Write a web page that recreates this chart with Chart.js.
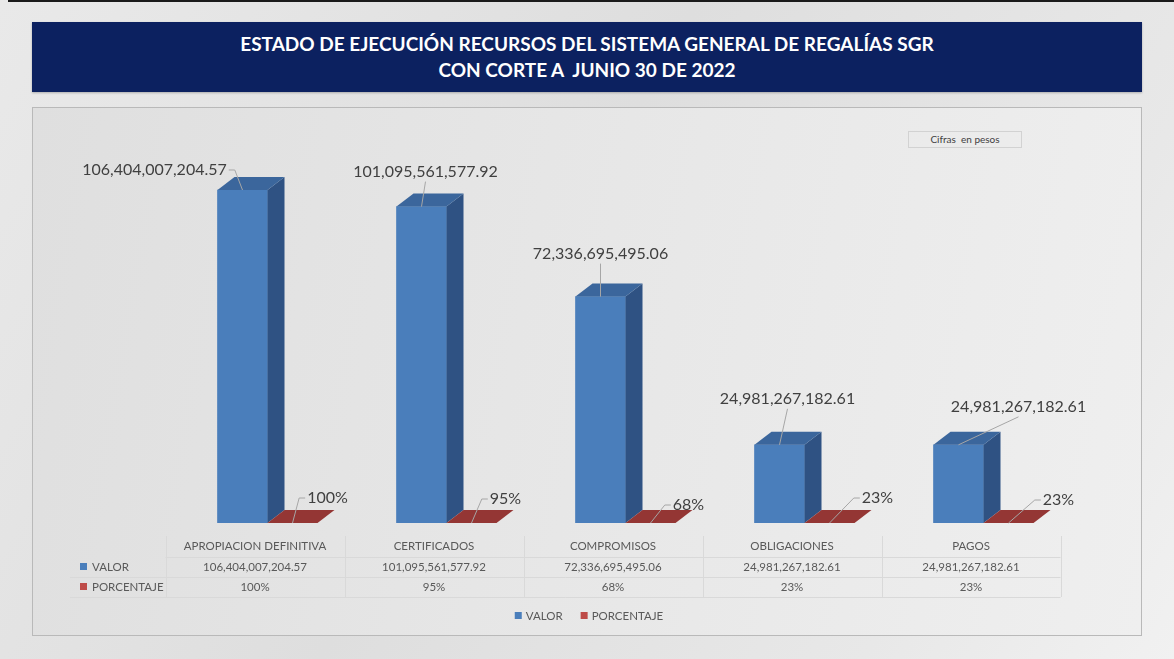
<!DOCTYPE html>
<html>
<head>
<meta charset="utf-8">
<script src="https://cdn.jsdelivr.net/npm/chart.js@4.4.0/dist/chart.umd.min.js"></script>
<style>
  html, body { margin: 0; padding: 0; }
  body {
    width: 1174px; height: 659px; position: relative; overflow: hidden;
    background: linear-gradient(120deg, #e9e9e9 0%, #dedede 45%, #e8e8e8 80%, #f1f1f1 100%);
    font-family: Lato, "Open Sans", sans-serif;
  }
  #topline { position: absolute; left: 8px; top: 0; width: 1166px; height: 2px; background: #1a1a1a; }
  #title {
    position: absolute; left: 32px; top: 22px; width: 1110px; height: 70px;
    background: #0c2160; color: #fff; font-weight: bold; font-size: 19px;
    line-height: 26px; text-align: center; box-sizing: border-box; padding-top: 9px;
    box-shadow: 0 1px 2px rgba(0,0,0,0.25);
  }
  #panel {
    position: absolute; left: 32px; top: 107px; width: 1110px; height: 529px;
    box-sizing: border-box; border: 1px solid #b9b9b9;
    background: linear-gradient(100deg, #dfdfdf 0%, #e7e7e7 50%, #efefef 100%);
  }
  #cifras {
    position: absolute; left: 908px; top: 131px; width: 114px; height: 17px;
    box-sizing: border-box; border: 1px solid #d2d2d2; font-size: 10px;
    color: #404040; text-align: center; line-height: 15px;
  }
  #c { position: absolute; left: 0; top: 0; }
</style>
</head>
<body>
<div id="topline"></div>
<div id="title">ESTADO DE EJECUCIÓN RECURSOS DEL SISTEMA GENERAL DE REGALÍAS SGR<br>CON CORTE A&nbsp; JUNIO 30 DE 2022</div>
<div id="panel"></div>
<div id="cifras">Cifras&nbsp; en pesos</div>
<canvas id="c" width="1174" height="659"></canvas>
<script>
// data
var categories = ["APROPIACION DEFINITIVA", "CERTIFICADOS", "COMPROMISOS", "OBLIGACIONES", "PAGOS"];
var seriesNames = ["VALOR", "PORCENTAJE"];
var valor = [106404007204.57, 101095561577.92, 72336695495.06, 24981267182.61, 24981267182.61];
var porcentaje = [1.00, 0.95, 0.68, 0.23, 0.23];

// label placement relative to the top-front of each bar (style only)
var valorLabelOffsets = [[-88, -20], [4, -35], [0, -43], [8, -46], [60, -38]];
var pctLabelOffsets = [[35, -25], [34, -24], [38, -18], [48, -25], [50, -23]];

var depth = { dx: 17, dy: 13 };
var tableShift = 12.5;

function fmtValor(v) {
    return v.toLocaleString('en-US', { minimumFractionDigits: 2, maximumFractionDigits: 2 });
}
function fmtPct(v) {
    return Math.round(v * 100) + '%';
}

function poly(ctx, pts) {
    ctx.beginPath();
    ctx.moveTo(pts[0][0], pts[0][1]);
    for (var i = 1; i < pts.length; i++) ctx.lineTo(pts[i][0], pts[i][1]);
    ctx.closePath();
    ctx.fill();
}

var bar3d = {
    id: 'bar3d',
    afterDatasetsDraw: function(chart) {
        var ctx = chart.ctx;
        ctx.save();
        chart.data.datasets.forEach(function(ds, di) {
            chart.getDatasetMeta(di).data.forEach(function(bar) {
                var w = bar.width, x0 = bar.x - w / 2, x1 = bar.x + w / 2;
                var y = bar.y, b = bar.base;
                ctx.fillStyle = ds.sideColor;
                poly(ctx, [[x1, y], [x1 + depth.dx, y - depth.dy], [x1 + depth.dx, b - depth.dy], [x1, b]]);
                ctx.fillStyle = ds.topColor;
                poly(ctx, [[x0, y], [x0 + depth.dx, y - depth.dy], [x1 + depth.dx, y - depth.dy], [x1, y]]);
            });
        });
        ctx.restore();
    }
};

var barLabels = {
    id: 'barLabels',
    afterDraw: function(chart) {
        var ctx = chart.ctx;
        ctx.save();
        ctx.font = '16px Lato';
        ctx.textAlign = 'center';
        ctx.textBaseline = 'middle';
        chart.data.datasets.forEach(function(ds, di) {
            var offsets = di === 0 ? valorLabelOffsets : pctLabelOffsets;
            chart.getDatasetMeta(di).data.forEach(function(bar, i) {
                var text = di === 0 ? fmtValor(ds.data[i]) : fmtPct(ds.data[i]);
                var ax = bar.x, ay = bar.y;
                var cx = ax + offsets[i][0], cy = ay + offsets[i][1];
                var tw = ctx.measureText(text).width;
                var l = cx - tw / 2, r = cx + tw / 2, bt = cy + 8;
                var pts;
                if (ax < l) pts = [[l - 2, cy], [l - 8, cy], [ax, ay]];
                else if (ax > r) pts = [[r + 2, cy], [r + 8, cy], [ax, ay]];
                else pts = [[cx, bt + 2], [ax, ay]];
                ctx.strokeStyle = '#a6a6a6';
                ctx.lineWidth = 1;
                ctx.beginPath();
                ctx.moveTo(pts[0][0], pts[0][1]);
                for (var k = 1; k < pts.length; k++) ctx.lineTo(pts[k][0], pts[k][1]);
                ctx.stroke();
                ctx.fillStyle = '#404040';
                ctx.fillText(text, cx, cy);
            });
        });
        ctx.restore();
    }
};

var dataTable = {
    id: 'dataTable',
    afterDraw: function(chart) {
        var ctx = chart.ctx, area = chart.chartArea;
        var colW = (area.right - area.left) / categories.length;
        var left = area.left - tableShift;
        var right = left + colW * categories.length;
        var rowTop = 536, rowH = [21, 20, 20];
        var keyLeft = 70;
        ctx.save();
        // grid lines
        ctx.strokeStyle = '#d9d9d9';
        ctx.lineWidth = 1;
        var y1 = rowTop + rowH[0], y2 = y1 + rowH[1], y3 = y2 + rowH[2];
        [y1, y2, y3].forEach(function(y) {
            ctx.beginPath();
            ctx.moveTo(y === y1 ? left : keyLeft, y + 0.5);
            ctx.lineTo(right, y + 0.5);
            ctx.stroke();
        });
        for (var i = 0; i <= categories.length; i++) {
            var x = Math.round(left + colW * i) + 0.5;
            ctx.beginPath();
            ctx.moveTo(x, rowTop);
            ctx.lineTo(x, y3);
            ctx.stroke();
        }
        // texts
        ctx.font = '11.5px Lato';
        ctx.fillStyle = '#595959';
        ctx.textAlign = 'center';
        ctx.textBaseline = 'middle';
        var rows = [
            { y: rowTop + rowH[0] / 2, vals: categories },
            { y: y1 + rowH[1] / 2, vals: valor.map(fmtValor) },
            { y: y2 + rowH[2] / 2, vals: porcentaje.map(fmtPct) }
        ];
        rows.forEach(function(row) {
            row.vals.forEach(function(t, i) {
                ctx.fillText(t, left + colW * (i + 0.5), row.y);
            });
        });
        // series keys
        ctx.textAlign = 'left';
        chart.data.datasets.forEach(function(ds, di) {
            var y = rows[di + 1].y;
            ctx.fillStyle = ds.backgroundColor;
            ctx.fillRect(80, y - 4, 7, 7);
            ctx.fillStyle = '#595959';
            ctx.fillText(ds.label, 92, y);
        });
        // legend
        var gap = 18, box = 7, pad = 4;
        var widths = chart.data.datasets.map(function(ds) { return box + pad + ctx.measureText(ds.label).width; });
        var total = widths.reduce(function(a, b) { return a + b; }, 0) + gap;
        var lx = chart.width / 2 - total / 2 + 2, ly = 616;
        chart.data.datasets.forEach(function(ds, di) {
            ctx.fillStyle = ds.backgroundColor;
            ctx.fillRect(lx, ly - 4, box, box);
            ctx.fillStyle = '#595959';
            ctx.fillText(ds.label, lx + box + pad, ly);
            lx += widths[di] + gap;
        });
        ctx.restore();
    }
};

var chart = new Chart(document.getElementById('c'), {
    type: 'bar',
    data: {
        labels: categories,
        datasets: [{
            label: seriesNames[0],
            data: valor,
            backgroundColor: '#4a7ebb',
            sideColor: '#2f5283',
            topColor: '#3b669c',
            borderWidth: 0,
            barThickness: 50
        }, {
            label: seriesNames[1],
            data: porcentaje,
            backgroundColor: '#be4b48',
            sideColor: '#7a2c2a',
            topColor: '#943634',
            borderWidth: 0,
            barThickness: 50
        }]
    },
    options: {
        responsive: false,
        animation: false,
        layout: { padding: { left: 178, right: 101, top: 131.8, bottom: 136 } },
        scales: {
            x: { display: false },
            y: { display: false, min: 0, max: 125000000000 }
        },
        plugins: {
            legend: { display: false },
            tooltip: { enabled: false }
        }
    },
    plugins: [bar3d, barLabels, dataTable]
});
</script>
</body>
</html>
